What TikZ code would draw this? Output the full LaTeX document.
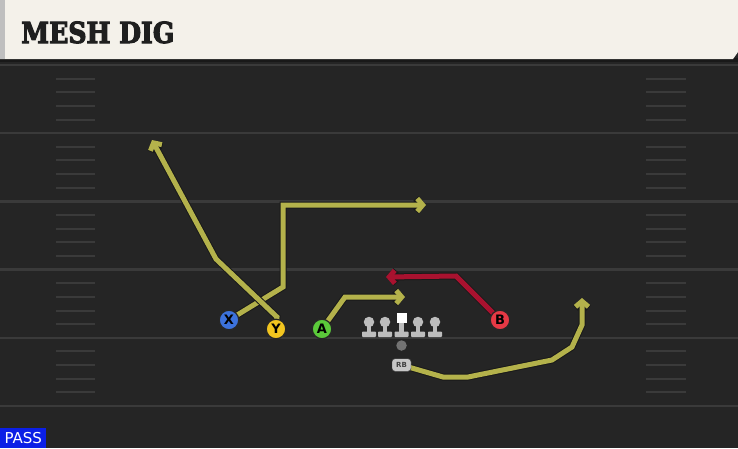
\documentclass[tikz,border=0pt]{standalone}
\usepackage{fontspec}
\setsansfont{DejaVu Sans}
\newfontfamily\titlefont[FakeStretch=0.87, BoldFeatures={FakeBold=3.5}]{DejaVu Serif}
\usetikzlibrary{arrows.meta,backgrounds}
\definecolor{fieldbg}{HTML}{252525}
\definecolor{yardline}{HTML}{3A3A3A}
\definecolor{headercream}{HTML}{F4F1EA}
\definecolor{routeolive}{HTML}{B4B24B}
\definecolor{routered}{HTML}{A8122F}
\definecolor{xblue}{HTML}{3C72DC}
\definecolor{yyellow}{HTML}{F2C51F}
\definecolor{agreen}{HTML}{5BCA3A}
\definecolor{bred}{HTML}{E63945}
\definecolor{linegray}{HTML}{BDBDBD}
\definecolor{passblue}{HTML}{0B1FE6}

\begin{document}
\begin{tikzpicture}[x=1pt, y=-1pt,
    player/.style={circle, draw=black!85, line width=1.2pt, fill=#1, minimum size=19.5pt, inner sep=0pt,
      font=\sffamily\bfseries\fontsize{13}{13}\selectfont},
    route/.style={line width=5pt, draw=#1, line join=miter,
      -{Straight Barb[length=5.5pt, width=13pt]},
      preaction={draw=black!90, line width=7pt}},
    lineman/.style={fill=linegray}]
  \useasboundingbox (0,0) rectangle (738,448);

  % Field and header
  \begin{scope}[on background layer]
    \fill[fieldbg] (0,0) rectangle (738,448);
    \foreach \y in {0,...,5} {
      \draw[yardline, line width=2.4pt] (0,65+68.2*\y) -- (738,65+68.2*\y);
    }
    \foreach \y in {0,...,4} {
      \foreach \k in {1,...,4} {
        \draw[yardline, line width=2pt] (56,65+68.2*\y+13.64*\k) -- (95,65+68.2*\y+13.64*\k);
        \draw[yardline, line width=2pt] (646,65+68.2*\y+13.64*\k) -- (686,65+68.2*\y+13.64*\k);
      }
    }
    \fill[black!90] (0,58) rectangle (738,62);
    \fill[headercream] (0,0) -- (738,0) -- (738,52) -- (733,59) -- (0,59) -- cycle;
    \fill[black!25] (0,0) rectangle (5,59);
  \end{scope}

  \node[anchor=base west, inner sep=0pt, text=black!88,
    font=\titlefont\bfseries\fontsize{29}{29}\selectfont] (title) at (21,43) {MESH DIG};

  % Players
  \node[player=xblue] (X) at (229,320) {X};
  \node[player=yyellow] (Y) at (276,329) {Y};
  \node[player=agreen] (A) at (322,329) {A};
  \node[player=bred] (B) at (500,320) {B};

  % Offensive line
  \foreach \x/\n in {369/lt, 385/lg, 401.5/c, 418/rg, 435/rt} {
    \fill[lineman] (\x-2.4,322) rectangle (\x+2.4,333);
    \fill[lineman, rounded corners=0.8pt] (\x-7,331.5) rectangle (\x+7,337);
  }
  \foreach \x/\n in {369/lt, 385/lg, 418/rg, 435/rt} {
    \node[circle, lineman, minimum size=10.5pt, inner sep=0pt] (\n) at (\x,322) {};
  }
  \node[rectangle, fill=white, minimum size=10pt, inner sep=0pt] (c) at (401.5,317.5) {};

  % Backfield
  \node[circle, fill=black!55, minimum size=10.5pt, inner sep=0pt] (qb) at (401.5,345.5) {};
  \node[rectangle, rounded corners=3pt, fill=black!22, draw=black!75, minimum width=19pt,
    minimum height=12.5pt, inner sep=0pt, text=black!75,
    font=\sffamily\bfseries\fontsize{7}{7}\selectfont] (rb) at (401.5,365) {RB};

  % Route ends
  \coordinate (xEnd) at (426,205);
  \coordinate (yEnd) at (152,140);
  \coordinate (aEnd) at (405,297);
  \coordinate (bEnd) at (386,277);
  \coordinate (rbEnd) at (582,298);

  % Routes
  \begin{scope}[on background layer]
    \draw[route=routeolive] (X.center) -- (283,287) -- (283,205) -- (xEnd);
    \draw[route=routeolive] (Y.center) -- (277,317) -- (216,259) -- (yEnd);
    \draw[route=routeolive] (A.center) -- (345,297) -- (aEnd);
    \draw[route=routered] (B.center) -- (456,276) -- (bEnd);
    \draw[route=routeolive] (rb.center) -- (443,377) -- (468,377) -- (552,360) -- (572,347) -- (582,325) -- (rbEnd);
  \end{scope}

  % Play type
  \node[fill=passblue, text=white, anchor=south west, minimum width=46pt, minimum height=20pt,
    inner sep=0pt, font=\sffamily\fontsize{15}{15}\selectfont] (pass) at (0,448) {PASS};
\end{tikzpicture}
\end{document}
